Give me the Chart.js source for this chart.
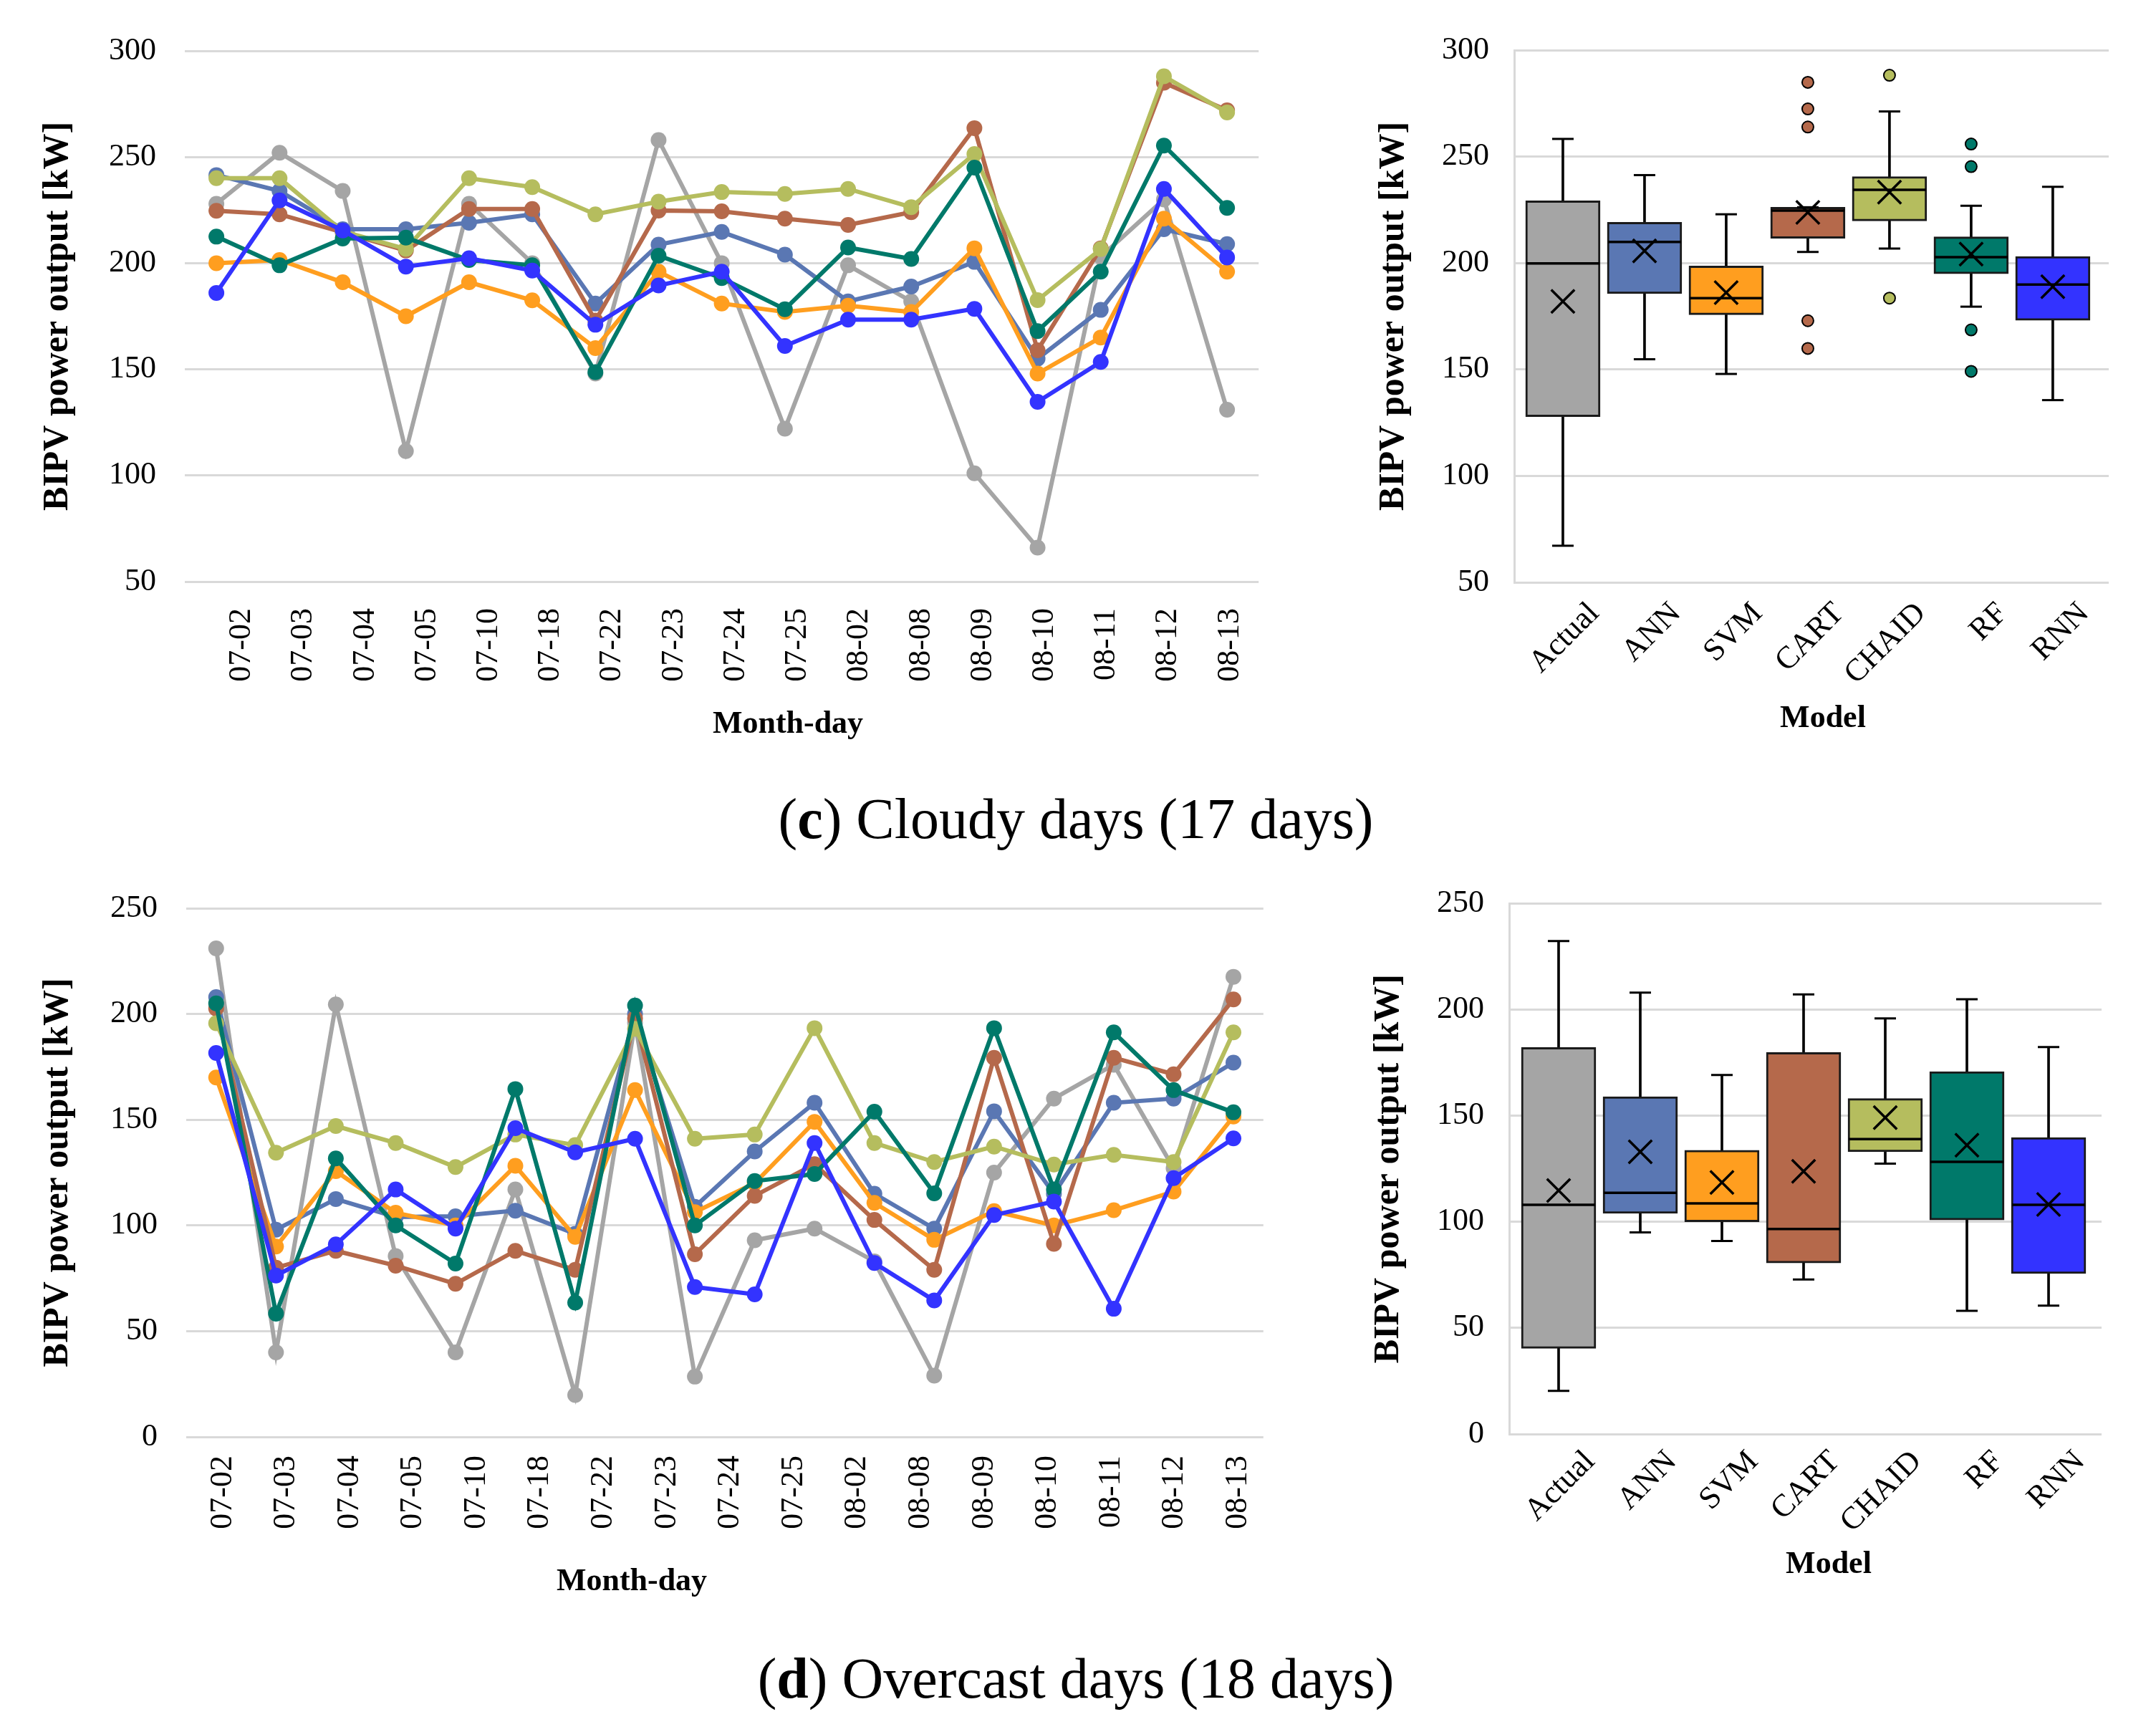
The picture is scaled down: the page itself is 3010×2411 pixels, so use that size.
<!DOCTYPE html>
<html><head><meta charset="utf-8">
<script src="https://cdn.jsdelivr.net/npm/chart.js@4.4.1/dist/chart.umd.min.js"></script>
<style>
html,body{margin:0;padding:0;background:#fff;}
body{width:3010px;height:2411px;position:relative;overflow:hidden;font-family:"Liberation Serif","Times New Roman",serif;}
canvas{position:absolute;}
.t{position:absolute;white-space:nowrap;transform:translateX(-50%);line-height:1;color:#000;}
.ax{font-size:44px;font-weight:bold;}
.cap{font-size:80px;}
</style></head><body>
<canvas id="cLine" style="left:0px;top:0px;width:1800px;height:1060px" width="1800" height="1060"></canvas>
<canvas id="cBox" style="left:1850px;top:0px;width:1160px;height:1060px" width="1160" height="1060"></canvas>
<canvas id="dLine" style="left:0px;top:1200px;width:1800px;height:1060px" width="1800" height="1060"></canvas>
<canvas id="dBox" style="left:1850px;top:1200px;width:1160px;height:1060px" width="1160" height="1060"></canvas>
<div class="t ax" style="left:1100px;top:987px">Month-day</div>
<div class="t ax" style="left:2545px;top:979px">Model</div>
<div class="t cap" style="left:1502px;top:1103px">(<b>c</b>) Cloudy days (17 days)</div>
<div class="t ax" style="left:882px;top:2184px">Month-day</div>
<div class="t ax" style="left:2553px;top:2160px">Model</div>
<div class="t cap" style="left:1502px;top:2303px">(<b>d</b>) Overcast days (18 days)</div>
<script>
// ---------- data ----------
const models = ['Actual','ANN','SVM','CART','CHAID','RF','RNN'];
const modelColors = ['#A5A5A5','#5A77B3','#FF9E1F','#B5694B','#B5BD5E','#00796A','#3333FF'];

const cloudyDays = ['07-02','07-03','07-04','07-05','07-10','07-18','07-22','07-23','07-24','07-25','08-02','08-08','08-09','08-10','08-11','08-12','08-13'];
const cloudyActual = [228,252,234,111.5,228,200,148,258,200,122,199,182,101,66,203,230,131];
const cloudyANN   = [241.5,234,216,216,219,223,181,208.7,214.7,204,182,189,200.6,155,178,216,209];
const cloudySVM   = [200,201.5,191,175,191,182.5,160,196,181,177,180,177,207,148,165,221,196];
const cloudyCART  = [224.7,223,214.5,206,225.5,225.5,173,224.8,224.4,221,218,224,263.6,159,207,285,272];
const cloudyCHAID = [240,240,215,206.7,240,235.8,223,229,233.5,232.6,235,226.4,251.4,182.6,206.6,288,271];
const cloudyRF    = [212.5,199,211.6,212,201.5,199,148.7,203.5,193,178.3,207.4,202,245,168,196,255.4,226];
const cloudyRNN   = [186,229.6,215.4,198.4,202.3,196.5,171,189.5,196,161,173.4,173.4,178.5,134.7,153.5,235,202.7];

const overcastDayLabels = ['07-02','07-03','07-04','07-05','07-10','07-18','07-22','07-23','07-24','07-25','08-02','08-08','08-09','08-10','08-11','08-12','08-13'];
const overcastSlots = ['1','2','3','4','5','6','7','8','9','10','11','12','13','14','15','16','17','18'];
const overcastActual = [231,40,204.5,85.5,40,117,19.8,196,28.5,93,98.5,83,29,125,160,176,127,217.6];
const overcastANN   = [208,98,112.5,104,104.3,107,96,200,108.8,135,158,115,98.5,154,115,158,160,177];
const overcastSVM   = [170,90,125.7,106,100,128.2,94.6,164,106.3,120,149,110.7,93.2,106.8,100,107.2,116,151.5];
const overcastCART  = [202.6,80,88,81,72.4,88,79,198,86.4,114,129,102.6,79,179.3,91.3,179.3,171.5,206.9];
const overcastCHAID = [195.6,134.4,147,139,127.6,143,138,193,141,143,193.3,139,130,137.3,128.8,133.4,130,191.3];
const overcastRF    = [205,58.3,131.7,100,82,164.5,63.5,204,100,121,124.3,153.8,115.2,193.3,117,191.3,164,153.5];
const overcastRNN   = [181.6,76.3,91,117,98.5,146,134.6,141,70.9,67.4,139,82.2,64.5,104.9,111.3,60.6,122.4,141.2];

// box-plot statistics (Actual, ANN, SVM, CART, CHAID, RF, RNN)
const cloudyMin    = [67.2,154.8,147.9,205.2,206.8,179.5,135.6];
const cloudyQ1     = [127.8,185.6,175.7,211.6,219.8,195.0,173.1];
const cloudyMedian = [199.8,209.9,183.5,224.6,234.4,202.8,189.9];
const cloudyQ3     = [229.2,219.1,198.6,226.2,240.6,212.3,203.1];
const cloudyMax    = [258.3,241.3,222.9,226.2,271.2,226.9,235.8];
const cloudyMean   = [182.0,205.7,186.1,223.8,233.3,204.2,188.9];
const cloudyOutliers = [[],[],[],[284.9,272.4,263.9,172.9,159.9],[288.2,183.5],[255.9,245.3,168.6,149.1],[]];

const overcastMin    = [20.3,95.0,91.0,72.8,127.4,58.1,60.5];
const overcastQ1     = [40.4,104.0,100.0,80.6,133.0,100.9,75.6];
const overcastMedian = [108.0,113.7,108.7,96.6,139.0,128.3,108.0];
const overcastQ3     = [182.2,159.0,133.7,179.8,158.1,170.8,139.7];
const overcastMax    = [232.3,208.0,169.2,207.2,195.9,204.9,182.4];
const overcastMean   = [114.8,133.0,118.6,123.8,149.1,136.1,108.2];
const overcastOutliers = [[],[],[],[],[],[],[]];

const yTitle = 'BIPV power output [kW]';
// ---------- drawing ----------
const FONT = "'Liberation Serif','Times New Roman',serif";
const GRID = '#d9d9d9';

function lineChart(id, o) {
  new Chart(document.getElementById(id), {
    type: 'line',
    data: {
      labels: o.slots,
      datasets: o.series.map((s, i) => ({
        label: models[i], data: s,
        borderColor: modelColors[i], backgroundColor: modelColors[i],
        pointBackgroundColor: modelColors[i], pointBorderColor: modelColors[i],
        pointBorderWidth: 0, pointRadius: 11, borderWidth: 6, tension: 0,
        order: 6 - i, xAxisID: 'x', yAxisID: 'y'
      }))
    },
    options: {
      responsive: false, animation: false, devicePixelRatio: 1,
      layout: { padding: { left: 0, top: o.top, right: o.right, bottom: 0 } },
      plugins: { legend: { display: false }, tooltip: { enabled: false } },
      scales: {
        x: { type: 'category', offset: true, display: false },
        xl: {
          type: 'linear', position: 'bottom', bounds: 'data', offset: false, min: o.la, max: o.lb,
          afterBuildTicks: s => { s.ticks = o.tickLabels.map((_, i) => ({ value: i })); },
          afterFit: s => { s.height = o.xh; },
          grid: { display: false }, border: { display: false },
          ticks: { autoSkip: false, minRotation: 90, maxRotation: 90, padding: o.lpad,
                   font: { family: FONT, size: 44 }, color: '#000',
                   callback: (v, i) => o.tickLabels[i] }
        },
        y: {
          min: o.ymin, max: o.ymax,
          afterFit: s => { s.width = o.yw; },
          ticks: { stepSize: 50, padding: o.ypad, font: { family: FONT, size: 44 }, color: '#000' },
          grid: { color: GRID, lineWidth: 3, drawTicks: false },
          border: { display: false },
          title: { display: true, text: yTitle, color: '#000',
                   font: { family: FONT, size: 50, weight: 'bold' }, padding: { top: o.tpad, bottom: 0 } }
        }
      }
    }
  });
}

function boxChart(id, o) {
  const idx = models.map((_, i) => i);
  const datasets = [
    { type: 'bar', label: 'whisker', data: idx.map(i => ({ x: i, y: [o.min[i], o.max[i]] })),
      backgroundColor: '#000', borderWidth: 0, barThickness: 3, grouped: false, order: 10 },
    { type: 'bar', label: 'box', data: idx.map(i => ({ x: i, y: [o.q1[i], o.q3[i]] })),
      backgroundColor: modelColors, borderColor: '#1a1a1a', borderWidth: 3, borderSkipped: false,
      barThickness: 104, grouped: false, order: 5 },
    { type: 'scatter', label: 'caps', data: idx.flatMap(i => [{ x: i, y: o.min[i] }, { x: i, y: o.max[i] }]),
      pointStyle: 'line', pointRadius: 15, pointBorderColor: '#000', pointBorderWidth: 3, order: 4 },
    { type: 'scatter', label: 'median', data: idx.map(i => ({ x: i, y: o.med[i] })),
      pointStyle: 'line', pointRadius: 51, pointBorderColor: '#000', pointBorderWidth: 3.5, order: 3 },
    { type: 'scatter', label: 'mean', data: idx.map(i => ({ x: i, y: o.mean[i] })),
      pointStyle: 'crossRot', pointRadius: 23, pointBorderColor: '#000', pointBorderWidth: 3.5, order: 2 },
    { type: 'scatter', label: 'outliers',
      data: idx.flatMap(i => o.out[i].map(v => ({ x: i, y: v }))),
      pointStyle: 'circle', pointRadius: 8,
      pointBackgroundColor: idx.flatMap(i => o.out[i].map(() => modelColors[i])),
      pointBorderColor: '#000', pointBorderWidth: 2, order: 1 }
  ];
  new Chart(document.getElementById(id), {
    type: 'bar',
    data: { datasets },
    options: {
      responsive: false, animation: false, devicePixelRatio: 1,
      layout: { padding: { left: 0, top: o.top, right: o.right, bottom: 0 } },
      plugins: { legend: { display: false }, tooltip: { enabled: false } },
      scales: {
        x: {
          type: 'linear', bounds: 'data', offset: false, min: o.xa, max: o.xb,
          afterBuildTicks: s => { s.ticks = models.map((_, i) => ({ value: i })); },
          afterFit: s => { s.height = o.xh; },
          grid: { display: false, offset: false }, border: { display: false },
          ticks: { autoSkip: false, minRotation: 45, maxRotation: 45, padding: o.lpad, labelOffset: 44,
                   font: { family: FONT, size: 44 }, color: '#000',
                   callback: (v, i) => models[i] }
        },
        y: {
          min: o.ymin, max: o.ymax,
          afterFit: s => { s.width = o.yw; },
          ticks: { stepSize: 50, padding: o.ypad, font: { family: FONT, size: 44 }, color: '#000' },
          grid: { color: GRID, lineWidth: 3, drawTicks: false },
          border: { display: true, color: GRID, width: 3 },
          title: { display: true, text: yTitle, color: '#000',
                   font: { family: FONT, size: 50, weight: 'bold' }, padding: { top: o.tpad, bottom: 0 } }
        }
      }
    }
  });
}

lineChart('cLine', {
  slots: cloudyDays, tickLabels: cloudyDays,
  series: [cloudyActual, cloudyANN, cloudySVM, cloudyCART, cloudyCHAID, cloudyRF, cloudyRNN],
  ymin: 50, ymax: 300, top: 71, right: 36, yw: 258, xh: 248, ypad: 40, tpad: 51,
  lpad: 29, la: -0.924, lb: 16.466
});
lineChart('dLine', {
  slots: overcastSlots, tickLabels: overcastDayLabels,
  series: [overcastActual, overcastANN, overcastSVM, overcastCART, overcastCHAID, overcastRF, overcastRNN],
  ymin: 0, ymax: 250, top: 68, right: 36, yw: 260, xh: 254, ypad: 40, tpad: 51,
  lpad: 18, la: -0.576, lb: 16.40
});
boxChart('cBox', {
  min: cloudyMin, q1: cloudyQ1, med: cloudyMedian, q3: cloudyQ3, max: cloudyMax, mean: cloudyMean, out: cloudyOutliers,
  ymin: 50, ymax: 300, top: 70, right: 66, yw: 264, xh: 247, ypad: 35, tpad: 66, lpad: 10,
  xa: -0.596, xb: 6.685
});
boxChart('dBox', {
  min: overcastMin, q1: overcastQ1, med: overcastMedian, q3: overcastQ3, max: overcastMax, mean: overcastMean, out: overcastOutliers,
  ymin: 0, ymax: 250, top: 60, right: 76, yw: 257, xh: 258, ypad: 35, tpad: 59, lpad: 5,
  xa: -0.605, xb: 6.649
});
</script>
</body></html>
